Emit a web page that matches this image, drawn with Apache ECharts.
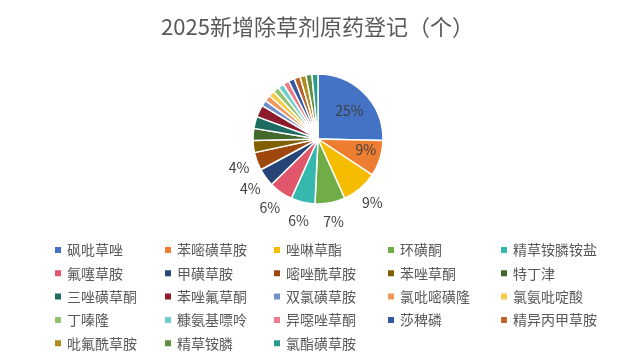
<!DOCTYPE html>
<html lang="zh">
<head>
    <meta charset="UTF-8">
    <title>2025新增除草剂原药登记</title>
    <script src="https://cdn.jsdelivr.net/npm/echarts@6/dist/echarts.min.js"></script>
</head>
<body style="margin: 0; background: #fff;">
    <div id="graph" style="width: 635px; height: 362px;"></div>

    <script>
        var names = ['砜吡草唑', '苯嘧磺草胺', '唑啉草酯', '环磺酮', '精草铵膦铵盐',
            '氟噻草胺', '甲磺草胺', '嘧唑酰草胺', '苯唑草酮', '特丁津',
            '三唑磺草酮', '苯唑氟草酮', '双氯磺草胺', '氯吡嘧磺隆', '氯氨吡啶酸',
            '丁嗪隆', '糠氨基嘌呤', '异噁唑草酮', '莎稗磷', '精异丙甲草胺',
            '吡氟酰草胺', '精草铵膦', '氯酯磺草胺'];
        var counts = [17, 6, 6, 5, 4, 4, 3, 3, 2, 2, 2, 2, 1, 1, 1, 1, 1, 1, 1, 1, 1, 1, 1];
        var colors = ['#4472C4', '#ED7D31', '#F5BC00', '#70AD47', '#36B8AF',
            '#E0566A', '#264478', '#9E480E', '#806000', '#43682B',
            '#1F6B62', '#8C1C2C', '#7490CC', '#F1975A', '#F7CB4A',
            '#93C26E', '#6ED0C8', '#E87B8C', '#335AA1', '#B8632A',
            '#B08D1F', '#5E8E3E', '#2A9A8F'];

        var myChart = echarts.init(document.getElementById('graph'));

        // first two labels sit inside the slice, the next six just outside, rest none
        var insideCount = 2;
        var labelled = 8;

        var labelFont = {color: '#404040', fontSize: 14, fontFamily: 'Noto Sans CJK SC'};
        function pct(p) {
            return Math.round(p.percent) + '%';
        }

        var pieData = [];
        var ringData = [];
        for (var i = 0; i < names.length; i++) {
            var item = {name: names[i], value: counts[i], itemStyle: {color: colors[i]}};
            if (i < insideCount) {
                item.label = {show: true, offset: i == 0 ? [6, -4] : [14, 0]};
            }
            pieData.push(item);
            ringData.push({
                name: names[i],
                value: counts[i],
                label: {show: i >= insideCount && i < labelled}
            });
        }

        // legend laid out as 5 columns, row-major like the original
        var colX = [48, 158, 267, 381, 494];
        var legends = [];
        for (var c = 0; c < 5; c++) {
            var col = [];
            for (var k = c; k < names.length; k += 5) col.push(names[k]);
            legends.push({
                orient: 'vertical',
                left: colX[c],
                top: 238,
                data: col,
                icon: 'rect',
                itemWidth: 8,
                itemHeight: 8,
                itemGap: 9.3,
                selectedMode: false,
                textStyle: {
                    color: '#595959',
                    fontSize: 14,
                    lineHeight: 14,
                    fontFamily: 'Noto Sans CJK SC'
                }
            });
        }

        var option = {
            animation: false,
            title: {
                text: '2025新增除草剂原药登记（个）',
                left: 'center',
                top: 11,
                textStyle: {
                    color: '#595959',
                    fontSize: 22,
                    fontWeight: 'normal',
                    fontFamily: 'Noto Sans CJK SC'
                }
            },
            legend: legends,
            series: [{
                type: 'pie',
                center: [318, 139],
                radius: 65,
                startAngle: 90,
                clockwise: true,
                itemStyle: {borderColor: '#fff', borderWidth: 1.5},
                label: Object.assign({show: false, position: 'inside', formatter: pct}, labelFont),
                labelLine: {show: false},
                data: pieData
            }, {
                // invisible ring just outside the pie, used only to place the outer labels
                type: 'pie',
                silent: true,
                center: [318, 139],
                radius: [65, 97],
                startAngle: 90,
                clockwise: true,
                itemStyle: {color: 'rgba(0,0,0,0)', borderWidth: 0},
                label: Object.assign({position: 'inside', formatter: pct}, labelFont),
                labelLine: {show: false},
                data: ringData
            }]
        };
        myChart.setOption(option);
    </script>
</body>
</html>
